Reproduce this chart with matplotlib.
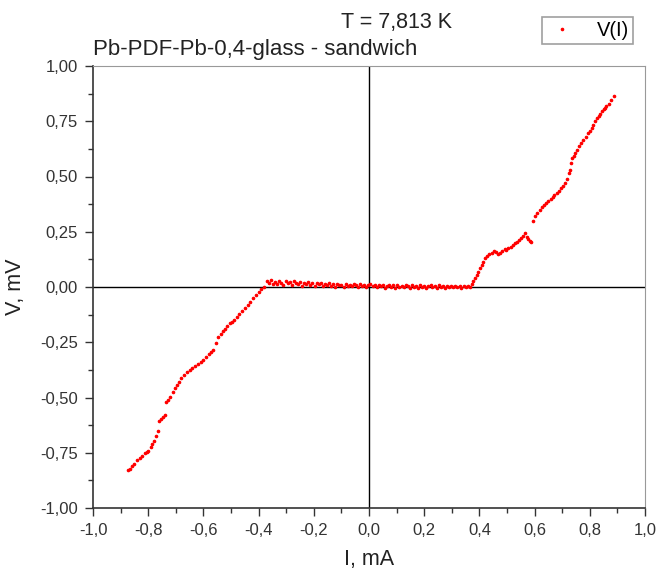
import numpy as np
import matplotlib.pyplot as plt
from matplotlib.ticker import MultipleLocator, FuncFormatter

plt.rcParams['font.family'] = ['Liberation Sans', 'DejaVu Sans']

# negative branch
i_neg = [-0.873, -0.866, -0.858, -0.850, -0.840, -0.830, -0.823, -0.812, -0.805, -0.799,
         -0.790, -0.787, -0.780, -0.772, -0.765, -0.760, -0.752, -0.745, -0.739, -0.736,
         -0.728, -0.720, -0.711, -0.703, -0.697, -0.690, -0.680, -0.670, -0.660, -0.650,
         -0.640, -0.630, -0.620, -0.610, -0.600, -0.590, -0.580, -0.572, -0.564, -0.555,
         -0.546, -0.538, -0.530, -0.522, -0.513, -0.505, -0.497, -0.490, -0.480, -0.470,
         -0.460, -0.450, -0.440, -0.430, -0.420, -0.410, -0.400, -0.390, -0.380]
v_neg = [-0.830, -0.822, -0.812, -0.800, -0.785, -0.772, -0.765, -0.752, -0.745, -0.740,
         -0.722, -0.710, -0.695, -0.676, -0.650, -0.606, -0.598, -0.590, -0.580, -0.520,
         -0.512, -0.497, -0.475, -0.458, -0.445, -0.430, -0.412, -0.398, -0.384, -0.375,
         -0.366, -0.357, -0.348, -0.340, -0.330, -0.316, -0.303, -0.295, -0.286, -0.255,
         -0.225, -0.212, -0.200, -0.190, -0.175, -0.165, -0.157, -0.150, -0.134, -0.120,
         -0.110, -0.096, -0.080, -0.067, -0.052, -0.036, -0.022, -0.010, 0.002]

# flat (superconducting) region
i_flat = [-0.370, -0.362, -0.355, -0.348, -0.340, -0.333, -0.325, -0.318, -0.310, -0.302,
          -0.295, -0.287, -0.280, -0.272, -0.265, -0.257, -0.250, -0.242, -0.235, -0.227,
          -0.220, -0.212, -0.205, -0.197, -0.190, -0.182, -0.175, -0.167, -0.160, -0.152,
          -0.145, -0.137, -0.130, -0.122, -0.115, -0.107, -0.100, -0.092, -0.085, -0.077,
          -0.070, -0.062, -0.055, -0.047, -0.040, -0.032, -0.025, -0.017, -0.010, -0.002,
          0.005, 0.013, 0.020, 0.028, 0.035, 0.043, 0.050, 0.058, 0.065, 0.073,
          0.080, 0.088, 0.095, 0.103, 0.110, 0.118, 0.125, 0.133, 0.140, 0.148,
          0.155, 0.163, 0.170, 0.178, 0.185, 0.193, 0.200, 0.208, 0.215, 0.223,
          0.230, 0.238, 0.245, 0.253, 0.260, 0.268, 0.275, 0.283, 0.290, 0.298,
          0.305, 0.313, 0.320, 0.328, 0.335, 0.343, 0.350, 0.358]
v_flat = [0.025, 0.018, 0.030, 0.015, 0.024, 0.012, 0.028, 0.020, 0.010, 0.026,
          0.016, 0.022, 0.008, 0.027, 0.018, 0.012, 0.024, 0.006, 0.020, 0.014,
          0.022, 0.010, 0.018, 0.005, 0.016, 0.012, 0.020, 0.004, 0.014, 0.010,
          0.018, 0.006, 0.012, 0.002, 0.015, 0.008, 0.011, 0.000, 0.013, 0.006,
          0.010, 0.003, 0.014, 0.007, 0.002, 0.012, 0.005, 0.010, 0.000, 0.008,
          0.012, 0.004, 0.009, -0.002, 0.010, 0.003, 0.008, -0.003, 0.006, 0.011,
          0.001, 0.007, -0.004, 0.009, 0.002, 0.006, -0.002, 0.008, 0.003, -0.005,
          0.007, 0.001, 0.005, -0.003, 0.009, 0.002, 0.006, -0.004, 0.004, 0.008,
          0.000, 0.005, -0.003, 0.007, 0.002, 0.004, -0.005, 0.006, 0.001, 0.003,
          -0.002, 0.005, 0.000, 0.004, -0.004, 0.003, 0.001, 0.004]

# positive branch
i_pos = [0.366, 0.372, 0.378, 0.384, 0.390, 0.396, 0.402, 0.408, 0.414, 0.420,
         0.428, 0.436, 0.444, 0.452, 0.460, 0.468, 0.475, 0.483, 0.491, 0.498,
         0.505, 0.513, 0.521, 0.528, 0.535, 0.543, 0.551, 0.558, 0.565, 0.571,
         0.577, 0.582, 0.587, 0.594, 0.600, 0.610, 0.620, 0.628, 0.635, 0.642,
         0.650, 0.658, 0.665, 0.672, 0.680, 0.688, 0.695, 0.702, 0.710, 0.718,
         0.724, 0.728, 0.732, 0.735, 0.742, 0.748, 0.752, 0.760, 0.768, 0.777,
         0.785, 0.793, 0.800, 0.807, 0.813, 0.820, 0.825, 0.832, 0.838, 0.843,
         0.850, 0.856, 0.860, 0.868, 0.876, 0.886]
v_pos = [0.002, 0.015, 0.028, 0.040, 0.055, 0.070, 0.085, 0.100, 0.115, 0.130,
         0.140, 0.150, 0.156, 0.162, 0.158, 0.150, 0.153, 0.165, 0.172, 0.168,
         0.175, 0.182, 0.190, 0.198, 0.205, 0.212, 0.222, 0.232, 0.243, 0.228,
         0.215, 0.210, 0.205, 0.300, 0.320, 0.335, 0.350, 0.360, 0.372, 0.380,
         0.387, 0.398, 0.408, 0.416, 0.425, 0.436, 0.448, 0.458, 0.470, 0.490,
         0.515, 0.530, 0.560, 0.584, 0.595, 0.605, 0.620, 0.636, 0.652, 0.667,
         0.680, 0.695, 0.708, 0.720, 0.735, 0.750, 0.765, 0.775, 0.785, 0.795,
         0.805, 0.812, 0.818, 0.830, 0.845, 0.863]

current = i_neg + i_flat + i_pos
voltage = v_neg + v_flat + v_pos

fig = plt.figure(figsize=(6.62, 5.8), dpi=100)
ax = fig.add_axes([93 / 662, 1 - 508 / 580, 552 / 662, 442 / 580])

ax.plot(current, voltage, '.', color='red', markersize=3.2, label='V(I)')
ax.axhline(0, color='black', lw=1.0, zorder=1)
ax.axvline(0, color='black', lw=1.0, zorder=1)

ax.set_xlim(-1.0, 1.0)
ax.set_ylim(-1.0, 1.0)
ax.xaxis.set_major_locator(MultipleLocator(0.2))
ax.xaxis.set_minor_locator(MultipleLocator(0.1))
ax.yaxis.set_major_locator(MultipleLocator(0.25))
ax.yaxis.set_minor_locator(MultipleLocator(0.125))
ax.xaxis.set_major_formatter(FuncFormatter(lambda v, p: ('%.1f' % v).replace('.', ',').replace('-0,0', '0,0')))
ax.yaxis.set_major_formatter(FuncFormatter(lambda v, p: ('%.2f' % v).replace('.', ',').replace('-0,00', '0,00')))
ax.tick_params(which='major', direction='out', length=6, width=1, labelsize=12, colors='#333333', pad=5)
ax.tick_params(which='minor', direction='out', length=3.5, width=1, colors='#333333')

for s in ['left', 'bottom']:
    ax.spines[s].set_color('#333333')
    ax.spines[s].set_linewidth(1.2)
for s in ['top', 'right']:
    ax.spines[s].set_color('#999999')

ax.set_xlabel('I, mA', fontsize=15.5, labelpad=8, color='#222222')
ax.set_ylabel('V, mV', fontsize=15.5, labelpad=10, color='#222222')

fig.text(397 / 662, 1 - 28 / 580, 'T = 7,813 K', ha='center', va='baseline', fontsize=15.5, color='#222222')
fig.text(93 / 662, 1 - 55 / 580, 'Pb-PDF-Pb-0,4-glass - sandwich', ha='left', va='baseline', fontsize=16,
         color='#222222')

leg = ax.legend(loc='upper right', bbox_to_anchor=(633 / 662, 1 - 17 / 580), bbox_transform=fig.transFigure,
                fontsize=14.5, frameon=True, fancybox=False, markerscale=1.0, handlelength=1.6,
                borderpad=0.2, borderaxespad=0, handletextpad=0.9, edgecolor='#888888')
leg.get_frame().set_linewidth(1.2)

fig.savefig('out.png', dpi=100)
